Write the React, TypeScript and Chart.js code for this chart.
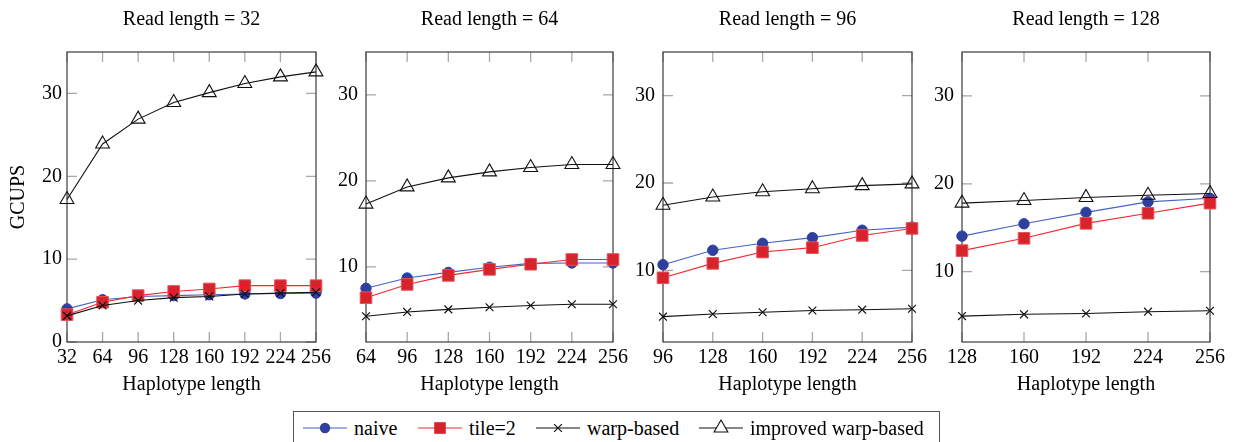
import React, { useEffect, useRef } from "react";
import { Chart, registerables } from "chart.js";

Chart.register(...registerables);

const FONT = "'Liberation Serif', 'Times New Roman', serif";

// haplotype lengths on the x axis of each panel
const hap32 = [32, 64, 96, 128, 160, 192, 224, 256];
const hap64 = [64, 96, 128, 160, 192, 224, 256];
const hap96 = [96, 128, 160, 192, 224, 256];
const hap128 = [128, 160, 192, 224, 256];

const yTicks = [0, 10, 20, 30];

// read length = 32
const naive32 = [4.0, 5.1, 5.5, 5.6, 5.7, 5.8, 5.85, 5.9];
const tile32 = [3.3, 4.8, 5.6, 6.1, 6.4, 6.8, 6.8, 6.8];
const warp32 = [3.15, 4.4, 5.0, 5.35, 5.5, 5.8, 5.9, 6.0];
const improved32 = [17.2, 23.9, 26.9, 28.9, 30.1, 31.2, 32.0, 32.6];

// read length = 64
const naive64 = [7.5, 8.7, 9.35, 9.95, 10.4, 10.45, 10.45];
const tile64 = [6.4, 7.95, 9.0, 9.7, 10.3, 10.85, 10.85];
const warp64 = [4.25, 4.75, 5.05, 5.3, 5.5, 5.65, 5.65];
const improved64 = [17.3, 19.3, 20.35, 21.05, 21.55, 21.9, 21.9];

// read length = 96
const naive96 = [10.65, 12.3, 13.1, 13.75, 14.6, 14.95];
const tile96 = [9.15, 10.8, 12.1, 12.6, 14.0, 14.8];
const warp96 = [4.7, 5.0, 5.2, 5.4, 5.5, 5.6];
const improved96 = [17.45, 18.4, 19.0, 19.35, 19.7, 19.9];

// read length = 128
const naive128 = [14.05, 15.45, 16.75, 17.95, 18.35];
const tile128 = [12.4, 13.8, 15.5, 16.65, 17.8];
const warp128 = [4.95, 5.15, 5.25, 5.45, 5.55];
const improved128 = [17.8, 18.1, 18.45, 18.7, 18.9];

type PanelDef = {
    title: string; xs: number[]; yMin: number;
    naive: number[]; tile: number[]; warp: number[]; improved: number[];
    left: number; areaWidth: number; yTitle: boolean; labelPad: number;
};

const panels: PanelDef[] = [
    { title: "Read length = 32", xs: hap32, yMin: 0, naive: naive32, tile: tile32,
        warp: warp32, improved: improved32, left: 0, areaWidth: 249, yTitle: true, labelPad: 5 },
    { title: "Read length = 64", xs: hap64, yMin: 1.25, naive: naive64, tile: tile64,
        warp: warp64, improved: improved64, left: 299, areaWidth: 247, yTitle: false, labelPad: 8 },
    { title: "Read length = 96", xs: hap96, yMin: 1.8, naive: naive96, tile: tile96,
        warp: warp96, improved: improved96, left: 596, areaWidth: 249, yTitle: false, labelPad: 8 },
    { title: "Read length = 128", xs: hap128, yMin: 2.0, naive: naive128, tile: tile128,
        warp: warp128, improved: improved128, left: 895, areaWidth: 248, yTitle: false, labelPad: 8 },
];

const BLUE = "#2f3f9f";
const BLUE_LINE = "#4563c4";
const RED = "#d7242c";
const RED_LINE = "#ee2a30";
const CANVAS_W = 340;
const CANVAS_H = 400;
const Y_AXIS_W = 67;
const FONT_SIZE = 20;

// pgfplots-like frame with small inward tick marks on all four sides
const framePlugin = {
    id: "frame",
    beforeDatasetsDraw(chart: Chart) {
        const { ctx, chartArea: a } = chart;
        const xs = chart.scales.x;
        const ys = chart.scales.y;
        ctx.save();
        ctx.strokeStyle = "#a8a8a8";
        ctx.lineWidth = 1.3;
        ctx.beginPath();
        xs.ticks.forEach((t) => {
            const px = xs.getPixelForValue(t.value);
            ctx.moveTo(px, a.bottom); ctx.lineTo(px, a.bottom - 10);
            ctx.moveTo(px, a.top); ctx.lineTo(px, a.top + 10);
        });
        ys.ticks.forEach((t) => {
            const py = ys.getPixelForValue(t.value);
            ctx.moveTo(a.left, py); ctx.lineTo(a.left + 10, py);
            ctx.moveTo(a.right, py); ctx.lineTo(a.right - 10, py);
        });
        ctx.stroke();
        ctx.strokeStyle = "#3c3c3c";
        ctx.lineWidth = 1.2;
        ctx.strokeRect(a.left, a.top, a.right - a.left, a.bottom - a.top);
        ctx.restore();
    },
};

const Panel = ({ p }: { p: PanelDef }) => {
    const canvas = useRef<HTMLCanvasElement>(null);
    useEffect(() => {
        const pts = (vals: number[]) => p.xs.map((x, i) => ({ x, y: vals[i] }));
        const font = { family: FONT, size: FONT_SIZE };
        const chart = new Chart(canvas.current.getContext("2d"), {
            type: "line",
            data: {
                datasets: [
                    {
                        label: "naive", data: pts(p.naive), order: 3,
                        borderColor: BLUE_LINE, borderWidth: 1.1,
                        pointStyle: "circle", pointRadius: 5.2,
                        pointBackgroundColor: BLUE, pointBorderColor: BLUE, pointBorderWidth: 1,
                    },
                    {
                        label: "tile=2", data: pts(p.tile), order: 2,
                        borderColor: RED_LINE, borderWidth: 1.1,
                        pointStyle: "rect", pointRadius: 8.2,
                        pointBackgroundColor: RED, pointBorderColor: "#e8505a", pointBorderWidth: 1,
                    },
                    {
                        label: "warp-based", data: pts(p.warp), order: 1,
                        borderColor: "#111", borderWidth: 1.1,
                        pointStyle: "crossRot", pointRadius: 5.5,
                        pointBorderColor: "#111", pointBorderWidth: 1.2,
                    },
                    {
                        label: "improved warp-based", data: pts(p.improved), order: 0,
                        borderColor: "#111", borderWidth: 1.1,
                        pointStyle: "triangle", pointRadius: 8,
                        pointBackgroundColor: "rgba(0,0,0,0)", pointBorderColor: "#111",
                        pointBorderWidth: 1.1,
                    },
                ],
            },
            options: {
                animation: false,
                responsive: false,
                events: [],
                layout: { padding: { left: 0, right: CANVAS_W - Y_AXIS_W - p.areaWidth, top: 0, bottom: 0 } },
                elements: { line: { tension: 0 } },
                datasets: { line: { clip: false } },
                plugins: {
                    legend: { display: false },
                    tooltip: { enabled: false },
                    title: {
                        display: true, text: p.title, color: "#000", fullSize: false,
                        font: { family: FONT, size: FONT_SIZE, weight: "normal" },
                        padding: { top: 8, bottom: 20 },
                    },
                },
                scales: {
                    x: {
                        type: "linear", min: p.xs[0], max: p.xs[p.xs.length - 1],
                        grid: { display: false, drawTicks: false },
                        border: { display: false },
                        afterBuildTicks: (s) => { s.ticks = p.xs.map((v) => ({ value: v })); },
                        afterFit: (s) => { s.height = CANVAS_H - 342; },
                        ticks: { color: "#000", font, padding: 4, maxRotation: 0, autoSkip: false },
                        title: {
                            display: true, text: "Haplotype length", color: "#000", font,
                            padding: { top: 0, bottom: 3 },
                        },
                    },
                    y: {
                        type: "linear", min: p.yMin, max: 35,
                        grid: { display: false, drawTicks: false },
                        border: { display: false },
                        afterBuildTicks: (s) => {
                            s.ticks = yTicks.filter((v) => v >= p.yMin).map((v) => ({ value: v }));
                        },
                        afterFit: (s) => { s.width = Y_AXIS_W; },
                        ticks: { color: "#000", font, padding: p.labelPad },
                        title: {
                            display: p.yTitle, text: "GCUPS", color: "#000", font,
                            padding: { top: 7, bottom: 0 },
                        },
                    },
                },
            },
            plugins: [framePlugin],
        });
        return () => chart.destroy();
    }, [p]);
    return (
        <canvas ref={canvas} width={CANVAS_W} height={CANVAS_H}
            style={{ position: "absolute", left: p.left, top: 0, width: CANVAS_W, height: CANVAS_H }} />
    );
};

const legendItems = [
    { label: "naive", marker: "circle", color: BLUE, line: BLUE_LINE, at: 9 },
    { label: "tile=2", marker: "square", color: RED, line: RED_LINE, at: 124 },
    { label: "warp-based", marker: "cross", color: "#111", line: "#111", at: 242 },
    { label: "improved warp-based", marker: "triangle", color: "#111", line: "#111", at: 405 },
];

const Marker = ({ kind, color }: { kind: string; color: string }) => {
    if (kind === "circle") return <circle cx={22} cy={11} r={5.2} fill={color} />;
    if (kind === "square") return <rect x={16.2} y={5.2} width={11.6} height={11.6} fill={color} />;
    if (kind === "cross") {
        return <path d="M18.1 7.1 L25.9 14.9 M25.9 7.1 L18.1 14.9" stroke={color} strokeWidth={1.2} />;
    }
    return <path d="M22 3 L28.9 15 L15.1 15 Z" fill="#fff" stroke={color} strokeWidth={1.1} />;
};

const Legend = () => (
    <div style={{
        position: "absolute", left: 293, top: 411, width: 647, height: 40,
        border: "1px solid #555", boxSizing: "border-box", fontFamily: FONT, fontSize: FONT_SIZE,
    }}>
        {legendItems.map((it) => (
            <div key={it.label} style={{ position: "absolute", left: it.at, top: 5, height: 22, whiteSpace: "nowrap" }}>
                <svg width={44} height={22} style={{ position: "absolute", left: 0, top: 0 }}>
                    <line x1={0} y1={11} x2={44} y2={11} stroke={it.line} strokeWidth={1.1} />
                    <Marker kind={it.marker} color={it.color} />
                </svg>
                <span style={{ position: "absolute", left: 51, top: 0, lineHeight: "22px" }}>{it.label}</span>
            </div>
        ))}
    </div>
);

export default function App() {
    return (
        <div style={{
            position: "fixed", left: 0, top: 0, width: 1234, height: 442,
            overflow: "hidden", background: "#fff",
        }}>
            {panels.map((p) => <Panel key={p.title} p={p} />)}
            <Legend />
        </div>
    );
}
